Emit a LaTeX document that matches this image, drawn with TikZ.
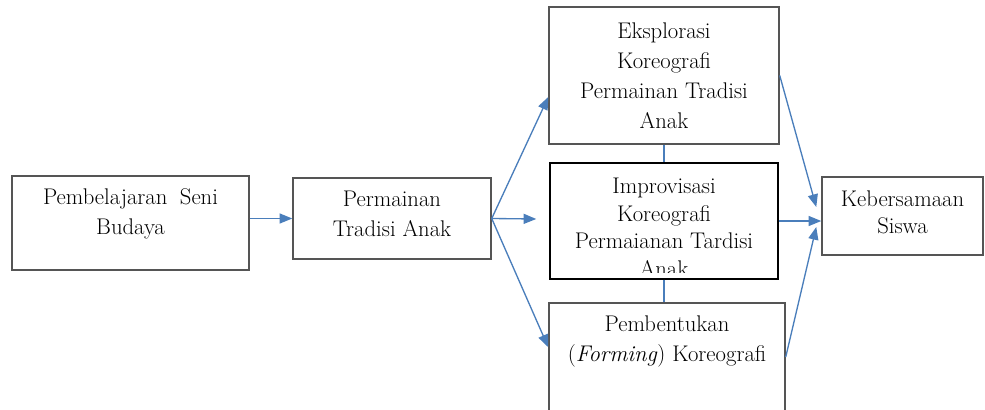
\documentclass[tikz,border=0pt]{standalone}
\usepackage{fontspec}
\usetikzlibrary{arrows.meta,positioning}
\definecolor{arrblue}{RGB}{74,126,187}
\definecolor{boxgray}{RGB}{85,85,85}
\tikzset{
  box/.style 2 args={draw=boxgray,line width=1.1pt,rectangle,inner sep=0pt,
    minimum width=#1*0.75pt,minimum height=#2*0.75pt},
  txt/.style={inner sep=0pt,align=center,text=black,font=\fontsize{17}{22.5}\selectfont},
  arr/.style={draw=arrblue,line width=1pt,-{Triangle[length=9.5pt,width=7.5pt]}},
  link/.style={draw=arrblue,line width=1pt}
}
\begin{document}
\begin{tikzpicture}[x=0.75pt,y=-0.75pt]
\useasboundingbox (0,0) rectangle (985,410);

\node[box={237}{94}] (a) at (130.5,223) {};
\node[box={198}{81}] (b) at (392,218.5) {};
\node[box={230}{137}] (c1) at (664,75.5) {};
\node[box={228}{116},draw=black] (c2) at (664,221) {};
\node[box={236}{117}] (c3) at (667,361.5) {};
\node[box={161}{78}] (d) at (902.5,216) {};

\node[txt,below=9.5pt of a.north] (at) {Pembelajaran\hspace{0.55em}Seni\\Budaya};
\node[txt,below=10pt of b.north] (bt) {Permainan\\Tradisi Anak};
\node[txt,below=12.5pt of c1.north] (c1t) {Eksplorasi\\Koreografi\\Permainan Tradisi\\Anak};
\begin{scope}
\clip (c2.north west) rectangle ([shift={(0,-7)}]c2.south east);
\node[txt,below=11.75pt of c2.north,font=\fontsize{17}{20.6}\selectfont] (c2t) {Improvisasi\\Koreografi\\Permaianan Tardisi\\Anak};
\end{scope}
\node[txt,below=10pt of c3.north] (c3t) {Pembentukan\\(\textit{Forming}) Koreografi};
\node[txt,below=11pt of d.north,font=\fontsize{17}{20.3}\selectfont] (dt) {Kebersamaan\\Siswa};

\draw[arr] (b.west -| a.east) -- (b.west);
\draw[arr] (b.east) -- ([shift={(0,21.5)}]c1.west);
\draw[arr] (b.east) -- ([shift={(-13,-2)}]c2.west);
\draw[arr] (b.east) -- ([shift={(0,45)}]c3.north west);
\draw[arr] (c1.east) -- ([shift={(-5,-9)}]d.west);
\draw[arr] (c2.east) -- (c2.east -| d.west);
\draw[arr] ([shift={(0,-4.5)}]c3.east) -- ([shift={(-5,11)}]d.west);
\draw[link] (c1.south) -- (c1.south |- c2.north);
\draw[link] (c2.south) -- (c2.south |- c3.north);
\end{tikzpicture}
\end{document}
